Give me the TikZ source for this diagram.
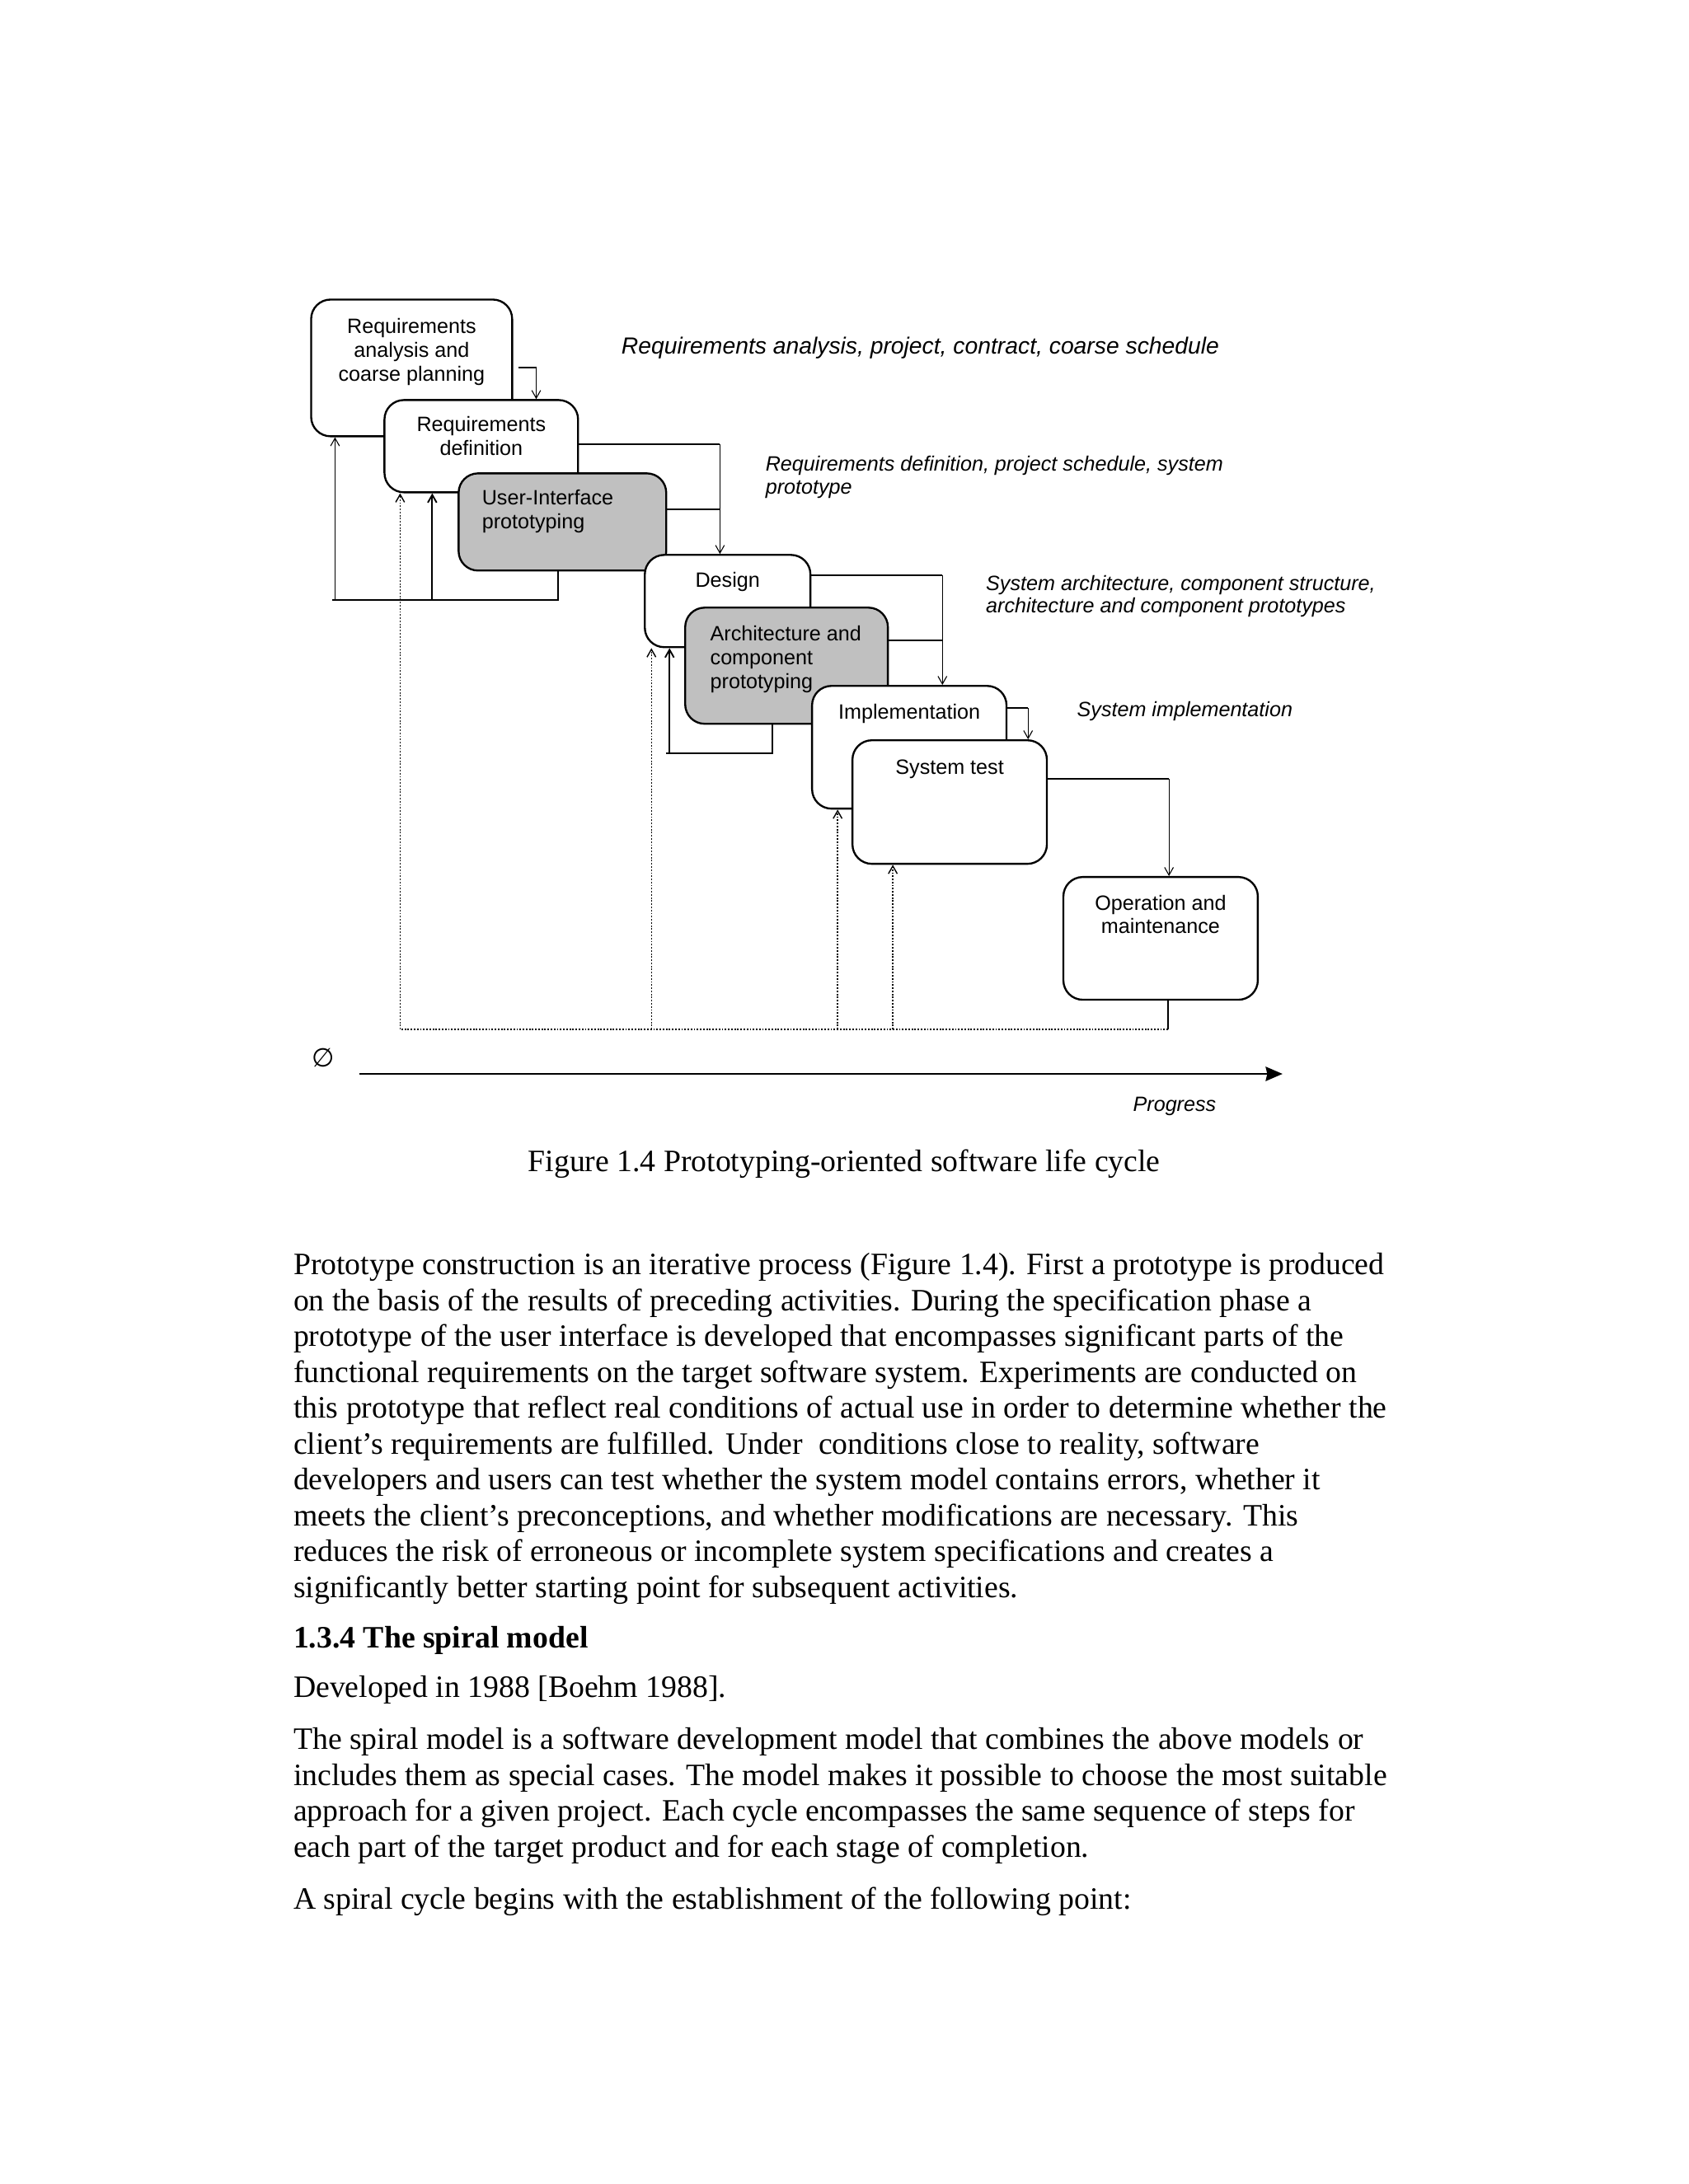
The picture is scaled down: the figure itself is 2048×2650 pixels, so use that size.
\documentclass[tikz,border=0pt]{standalone}
\usepackage{fontspec}
\setmainfont{Liberation Serif}
\setsansfont{Liberation Sans}
\newfontfamily\symbfont{DejaVu Sans}
\usetikzlibrary{arrows.meta,calc,fit}
\definecolor{protogray}{RGB}{192,192,192}
\begin{document}
\begin{tikzpicture}[x=0.317900pt,y=-0.317900pt,
  phase/.style={draw=black,line width=0.75pt,rounded corners=7.5pt,inner sep=0pt,fill=white},
  proto/.style={phase,fill=protogray},
  phasetext/.style={font=\sffamily\fontsize{8}{9.2}\selectfont,inner sep=0pt,align=center,anchor=base},
  prototext/.style={phasetext,align=left,anchor=base west},
  result/.style={font=\sffamily\itshape\fontsize{8}{8.8}\selectfont,inner sep=0pt,align=left,anchor=base west},
  flow/.style={line width=0.65pt},
  drop/.style={line width=0.35pt,-{Straight Barb[length=3pt,width=3.4pt]}},
  back/.style={line width=0.6pt,-{Straight Barb[length=3pt,width=3.4pt]}},
  trace/.style={line width=0.45pt,dash pattern=on 0.6pt off 0.6pt},
  body/.style={font=\fontsize{12}{13.83}\selectfont,inner sep=0pt,align=left,anchor=base west}]
\filldraw[color=white] (0.000000,0.000000) rectangle (2048.000000,2650.000000);
% Drawing phases (multi-line texts sit on the baseline of their last line)
% Phase 1: requirements analysis and coarse planning
\node[phase,fit={(377.000000,363.000000) (621.000000,529.000000)}] (rac) {};
\node[phasetext] (rac-t) at ($(rac.north)+(0,100)$) {Requirements\\analysis and\\coarse planning};
% Phase 2: requirements definition
\node[phase,fit={(466.000000,485.000000) (701.000000,597.000000)}] (rd) {};
\node[phasetext] (rd-t) at ($(rd.north)+(0,68)$) {Requirements\\definition};
% Phase 2a: user interface prototype
\node[proto,fit={(556.000000,574.000000) (808.000000,692.000000)}] (uip) {};
\node[prototext] (uip-t) at ($(uip.north west)+(29,68)$) {User-Interface\\prototyping};
% Phase 3: design
\node[phase,fit={(782.000000,673.000000) (983.000000,785.000000)}] (des) {};
\node[phasetext] (des-t) at ($(des.north)+(0,40)$) {Design};
% Phase 3a: architecture and component prototype
\node[proto,fit={(831.000000,737.000000) (1077.000000,878.000000)}] (acp) {};
\node[prototext] (acp-t) at ($(acp.north west)+(31,99)$) {Architecture and\\component\\prototyping};
% Phase 4: implementation
\node[phase,fit={(985.000000,832.000000) (1221.000000,981.000000)}] (imp) {};
\node[phasetext] (imp-t) at ($(imp.north)+(0,41)$) {Implementation};
% Phase 5: system test
\node[phase,fit={(1034.000000,898.000000) (1270.000000,1048.000000)}] (sys) {};
\node[phasetext] (sys-t) at ($(sys.north)+(0,42)$) {System test};
% Phase 6: operation and maintenance
\node[phase,fit={(1290.000000,1064.000000) (1526.000000,1213.000000)}] (om) {};
\node[phasetext] (om-t) at ($(om.north)+(0,70)$) {Operation and\\maintenance};
% Done with phases; drawing results
\node[result,font=\sffamily\itshape\fontsize{9}{10}\selectfont] (res-ra) at (753.000000,429.000000) {Requirements analysis, project, contract, coarse schedule};
\node[result] (res-rd) at (928.000000,598.700000) {Requirements definition, project schedule, system\\prototype};
\node[result] (res-des) at (1195.500000,743.700000) {System architecture, component structure,\\architecture and component prototypes};
\node[result] (res-imp) at (1306.000000,869.000000) {System implementation};
% Done with results; drawing forward flow
% Flow 1: rac -> rd
\coordinate (k1) at ($(rac.north east)+(28,84)$);
\draw[flow] ($(rac.north east)+(6,84)$) -- (k1);
\draw[drop] (k1) -- (k1 |- rd.north);
% Flow 2: rd, uip -> des
\coordinate (k2) at ($(rd.north east)+(171,55)$);
\draw[flow] ($(rd.north east)+(0,55)$) -- (k2);
\draw[flow] ($(uip.north east)+(0,45)$) -- (k2 |- {$(uip.north east)+(0,45)$});
\draw[drop] (k2) -- (k2 |- des.north);
% Flow 3: des, acp -> imp
\coordinate (k3) at ($(des.north east)+(159,26)$);
\draw[flow] ($(des.north east)+(0,26)$) -- (k3);
\draw[flow] ($(acp.north east)+(0,41)$) -- (k3 |- {$(acp.north east)+(0,41)$});
\draw[drop] (k3) -- (k3 |- imp.north);
% Flow 4: imp -> sys
\coordinate (k4) at ($(imp.north east)+(25,28)$);
\draw[flow] ($(imp.north east)+(0,28)$) -- (k4);
\draw[drop] (k4) -- (k4 |- sys.north);
% Flow 5: sys -> om
\coordinate (k5) at ($(sys.north east)+(147,48)$);
\draw[flow] ($(sys.north east)+(0,48)$) -- (k5);
\draw[drop] (k5) -- (k5 |- om.north);
% Done with forward flow; drawing prototype feedback
\coordinate (uip-out) at (677.000000,728.000000);
\coordinate (uip-end) at (403.000000,728.000000);
\coordinate (ra-in) at (406.000000,728.000000);
\coordinate (rd-in) at (524.000000,728.000000);
\draw[flow] (uip-out |- uip.south) -- (uip-out) -- (uip-end);
\draw[drop] (ra-in) -- (ra-in |- rac.south);
\draw[back] (rd-in) -- (rd-in |- rd.south);
\coordinate (acp-out) at (937.000000,914.000000);
\coordinate (acp-end) at (807.500000,914.000000);
\coordinate (des-in) at (812.000000,914.000000);
\draw[flow] (acp-out |- acp.south) -- (acp-out) -- (acp-end);
\draw[back] (des-in) -- (des-in |- des.south);
% Done with prototype feedback; drawing maintenance trace
\coordinate (om-out) at (1417.000000,1249.000000);
\coordinate (rd-trace) at (485.000000,1249.000000);
\coordinate (des-trace) at (790.000000,1249.000000);
\coordinate (imp-trace) at (1016.000000,1249.000000);
\coordinate (sys-trace) at (1083.000000,1249.000000);
\draw[flow] (om-out |- om.south) -- (om-out);
\draw[trace] (om-out) -- (rd-trace);
\draw[trace,-{Straight Barb[length=3pt,width=3.4pt]}] (rd-trace) -- (rd-trace |- rd.south);
\draw[trace,-{Straight Barb[length=3pt,width=3.4pt]}] (des-trace) -- (des-trace |- des.south);
\draw[trace,-{Straight Barb[length=3pt,width=3.4pt]}] (imp-trace) -- (imp-trace |- imp.south);
\draw[trace,-{Straight Barb[length=3pt,width=3.4pt]}] (sys-trace) -- (sys-trace |- sys.south);
% Done with trace; drawing progress axis
\node[font=\symbfont\fontsize{10}{11}\selectfont,inner sep=0pt] (origin) at (392.000000,1283.000000) {∅};
\coordinate (axis-start) at (436.000000,1303.000000);
\coordinate (axis-end) at (1556.000000,1303.000000);
\draw[line width=0.8pt,-{Stealth[length=6.5pt,width=5.5pt,inset=0.6pt]}] (axis-start) -- (axis-end);
\node[result] (progress) at (1374.000000,1348.000000) {Progress};
% Done with axis; drawing caption and text
\node[font=\fontsize{12}{14}\selectfont,inner sep=0pt,anchor=base] (caption) at (1024.000000,1422.000000) {Figure 1.4 Prototyping-oriented software life cycle};
\node[body] (para1) at (355.000000,1938.300000) {Prototype construction is an iterative process (Figure 1.4). First a prototype is produced\\
on the basis of the results of preceding activities. During the specification phase a\\
prototype of the user interface is developed that encompasses significant parts of the\\
functional requirements on the target software system. Experiments are conducted on\\
this prototype that reflect real conditions of actual use in order to determine whether the\\
client’s requirements are fulfilled. Under\ \ conditions close to reality, software\\
developers and users can test whether the system model contains errors, whether it\\
meets the client’s preconceptions, and whether modifications are necessary. This\\
reduces the risk of erroneous or incomplete system specifications and creates a\\
significantly better starting point for subsequent activities.};
\node[body,font=\bfseries\fontsize{12}{13.83}\selectfont] (heading) at (355.000000,2000.000000) {1.3.4 The spiral model};
\node[body] (dev) at (355.000000,2060.000000) {Developed in 1988 [Boehm 1988].};
\node[body] (para2) at (355.000000,2253.500000) {The spiral model is a software development model that combines the above models or\\
includes them as special cases. The model makes it possible to choose the most suitable\\
approach for a given project. Each cycle encompasses the same sequence of steps for\\
each part of the target product and for each stage of completion.};
\node[body] (para3) at (355.000000,2317.000000) {A spiral cycle begins with the establishment of the following point:};
% Done with text
\end{tikzpicture}
\end{document}
